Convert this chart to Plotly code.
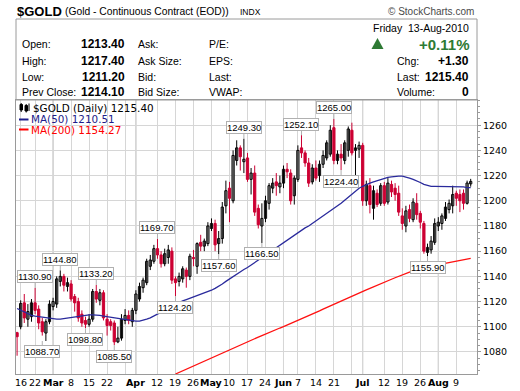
import plotly.graph_objects as go

# ---------------- data ----------------
TRADING_DAYS = [
    ("02", [12, 16, 17, 18, 19, 22, 23, 24, 25, 26]),
    ("03", [1, 2, 3, 4, 5, 8, 9, 10, 11, 12, 15, 16, 17, 18, 19, 22, 23, 24, 25, 26, 29, 30, 31]),
    ("04", [1, 5, 6, 7, 8, 9, 12, 13, 14, 15, 16, 19, 20, 21, 22, 23, 26, 27, 28, 29, 30]),
    ("05", [3, 4, 5, 6, 7, 10, 11, 12, 13, 14, 17, 18, 19, 20, 21, 24, 25, 26, 27, 28]),
    ("06", [1, 2, 3, 4, 7, 8, 9, 10, 11, 14, 15, 16, 17, 18, 21, 22, 23, 24, 25, 28, 29, 30]),
    ("07", [1, 2, 6, 7, 8, 9, 12, 13, 14, 15, 16, 19, 20, 21, 22, 23, 26, 27, 28, 29, 30]),
    ("08", [2, 3, 4, 5, 6, 9, 10, 11, 12, 13]),
]
DATES = [f"2010-{m}-{d:02d}" for m, days in TRADING_DAYS for d in days]

OPEN = [1095.3, 1100, 1119, 1106, 1108, 1119, 1114, 1104, 1095, 1104,
        1116, 1118, 1136, 1140, 1132, 1134, 1124, 1120, 1110, 1105,
        1102, 1106, 1128, 1121, 1127, 1106, 1104, 1103, 1088, 1091,
        1105, 1109, 1104, 1113, 1122, 1131, 1135, 1148, 1152, 1162,
        1157, 1150, 1155, 1160, 1138, 1136, 1138, 1145, 1140, 1155,
        1148, 1167, 1164, 1166, 1178, 1182, 1166, 1170, 1196, 1210,
        1200, 1232, 1242, 1231, 1234, 1217, 1222, 1194, 1180, 1186,
        1198, 1210, 1215, 1211, 1214, 1225, 1222, 1204, 1217, 1242,
        1238, 1230, 1215, 1226, 1220, 1229, 1234, 1237, 1258, 1232,
        1237, 1232, 1240, 1256, 1240, 1241, 1244, 1200, 1212, 1194,
        1206, 1198, 1212, 1199, 1213, 1210, 1206, 1188, 1180, 1193,
        1185, 1198, 1190, 1182, 1159, 1161, 1167, 1180, 1182, 1186,
        1193, 1196, 1206, 1205, 1206, 1198, 1213.4]
HIGH = [1096, 1121, 1126, 1118, 1122, 1130.9, 1117, 1107, 1106, 1121,
        1123, 1140, 1144.8, 1142, 1139, 1137, 1126, 1123, 1113, 1108,
        1110, 1130, 1133.2, 1130, 1129, 1110, 1106, 1105, 1100, 1110,
        1114, 1113, 1115, 1129, 1135, 1139, 1154, 1157, 1165, 1169.7,
        1160, 1162, 1165, 1163, 1140, 1143, 1148, 1147, 1158, 1161,
        1167, 1173, 1170, 1183, 1186, 1185, 1176, 1199, 1216, 1215,
        1240, 1248, 1244, 1249.3, 1238, 1226, 1228, 1197, 1198, 1204,
        1214, 1218, 1222, 1220, 1228, 1230, 1225, 1220, 1244, 1252.1,
        1240, 1234, 1229, 1232, 1232, 1240, 1248, 1260, 1265, 1240,
        1245, 1248, 1259, 1262, 1245, 1247, 1246, 1216, 1218, 1212,
        1209, 1214, 1215, 1218, 1216, 1214, 1212, 1194, 1196, 1197,
        1202, 1206, 1192, 1184, 1166, 1172, 1186, 1187, 1190, 1199,
        1201, 1212, 1208, 1209, 1209, 1216, 1217.4]
LOW = [1077, 1098, 1103, 1100, 1104, 1110, 1098, 1093, 1088.7, 1102,
       1113, 1115, 1132, 1128, 1128, 1120, 1112, 1104, 1100, 1098.8,
       1100, 1104, 1119, 1117, 1105, 1093, 1097, 1085.5, 1087, 1089,
       1102, 1102, 1100, 1110, 1120, 1127, 1133, 1145, 1150, 1154,
       1147, 1148, 1150, 1134, 1124.2, 1132, 1135, 1131, 1137, 1148,
       1142, 1160, 1160, 1164, 1176, 1160, 1157.6, 1166, 1190, 1183,
       1198, 1228, 1224, 1222, 1215, 1205, 1188, 1178, 1166.5, 1183,
       1193, 1206, 1204, 1206, 1210, 1218, 1197, 1197, 1215, 1234,
       1227, 1211, 1213, 1216, 1215, 1226, 1232, 1235, 1229, 1229,
       1224.4, 1229, 1235, 1236, 1220, 1234, 1196, 1196, 1190, 1185,
       1195, 1196, 1196, 1197, 1203, 1200, 1188, 1177, 1175, 1183,
       1183, 1185, 1178, 1158, 1155.9, 1158, 1165, 1176, 1177, 1184,
       1190, 1190, 1196, 1191, 1193, 1197, 1211.2]
CLOSE = [1092.1, 1118.5, 1107, 1112, 1119, 1113, 1103, 1096, 1104, 1118,
         1120, 1138, 1140, 1133, 1135, 1122, 1119, 1107, 1103, 1102,
         1106, 1128, 1122, 1127, 1107, 1101, 1101, 1088, 1091, 1106,
         1109, 1105, 1113, 1126, 1132, 1137, 1152, 1153, 1162, 1157,
         1150, 1158, 1161, 1137, 1135, 1140, 1146, 1140, 1156, 1154,
         1166, 1164, 1168, 1180, 1182, 1165, 1170, 1195, 1208, 1202,
         1236, 1242, 1235, 1233, 1217, 1222, 1191, 1181, 1186, 1200,
         1212, 1214, 1212, 1214, 1225, 1223, 1200, 1218, 1240, 1238,
         1230, 1214, 1226, 1218, 1229, 1236, 1246, 1256, 1232, 1237,
         1234, 1246, 1257, 1238, 1242, 1244, 1200, 1213, 1197, 1208,
         1197, 1212, 1198, 1214, 1207, 1205, 1191, 1182, 1192, 1186,
         1199, 1189, 1183, 1160, 1163, 1168, 1182, 1183, 1188, 1195,
         1198, 1205, 1202, 1200, 1198, 1214.1, 1215.4]

MA50 = [1114.5, 1113, 1112, 1110.5, 1109, 1108.5, 1108, 1107.5, 1107, 1106.5, 1106,
        1106, 1106, 1106.5, 1107, 1107.5, 1107.5, 1108, 1108.5, 1109, 1109.5,
        1109.5, 1109.5, 1109, 1108.5, 1108, 1107.5, 1107, 1106.5, 1106, 1105.5, 1105, 1104.5,
        1104.5, 1104.5, 1105, 1106, 1107, 1108.5, 1110, 1111.5, 1113, 1114.5, 1116.5, 1118,
        1119.5, 1120.5, 1121.5, 1122.5, 1123.5, 1124.5, 1125.5, 1126.5, 1127.5, 1129, 1130.5, 1132,
        1134, 1136, 1138, 1140, 1142, 1144, 1145.5, 1147, 1149, 1151, 1153,
        1155, 1157, 1159, 1161, 1162.5, 1164.5, 1166.5,
        1168.5, 1170.5, 1172.5, 1174.5, 1176.5, 1178.5, 1180, 1182, 1183.5,
        1185.5, 1187.5, 1189.5, 1191.5, 1193.5, 1195.5, 1198,
        1200.5, 1203, 1205.5, 1208, 1210, 1211.5, 1213,
        1214, 1215, 1216, 1217, 1218, 1218.5, 1219, 1219.5, 1219.5,
        1219.5, 1219, 1218, 1217, 1216, 1214.5, 1213, 1212, 1211.5,
        1211.5, 1211.5, 1211.5, 1211.5, 1211.5, 1211.5, 1211.5, 1211, 1211, 1210.5, 1210.51]

MA200 = [None] * 44 + [
    1062.5, 1063.8, 1065.1, 1066.4, 1067.7, 1069, 1070.2, 1071.5, 1072.8, 1074, 1075.3,
    1076.6, 1077.9, 1079.2, 1080.5, 1081.8, 1083.1, 1084.4, 1085.7, 1087, 1088.2,
    1089.4, 1090.6, 1091.8, 1093, 1094.3, 1095.5, 1096.7, 1097.9, 1099, 1100.1,
    1101.3, 1102.6, 1103.8, 1105.1, 1106.3, 1107.6, 1108.8, 1110.1, 1111.3,
    1112.6, 1114, 1115.3, 1116.7, 1118, 1119.4, 1120.7, 1122.1, 1123.4,
    1124.6, 1125.8, 1127, 1128.1, 1129.3, 1130.5, 1131.6, 1132.8, 1134,
    1135.2, 1136.4, 1137.7, 1138.9, 1140.1, 1141.3, 1142.5,
    1143.3, 1144.1, 1145, 1145.8, 1146.6, 1147.4, 1148.2,
    1148.8, 1149.4, 1150, 1150.6, 1151.2, 1151.7, 1152.2, 1152.8, 1153.3, 1153.8, 1154.27]

# labelled highs / lows
PEAK_DATES = ["2010-02-22", "2010-03-03", "2010-03-17", "2010-04-12", "2010-05-14",
              "2010-06-08", "2010-06-21"]
PEAK_VALUES = [1130.90, 1144.80, 1133.20, 1169.70, 1249.30, 1252.10, 1265.00]
TROUGH_DATES = ["2010-02-24", "2010-03-12", "2010-03-24", "2010-04-19", "2010-05-05",
                "2010-05-21", "2010-06-23", "2010-07-28"]
TROUGH_VALUES = [1088.70, 1098.80, 1085.50, 1124.20, 1157.60, 1166.50, 1224.40, 1155.90]

TICK_DATES = ["2010-02-16", "2010-02-22", "2010-03-01", "2010-03-08", "2010-03-15",
              "2010-03-22", "2010-03-29", "2010-04-01", "2010-04-12", "2010-04-19",
              "2010-04-26", "2010-05-03", "2010-05-10", "2010-05-17", "2010-05-24",
              "2010-06-01", "2010-06-07", "2010-06-14", "2010-06-21", "2010-06-28",
              "2010-07-01", "2010-07-12", "2010-07-19", "2010-07-26", "2010-08-02",
              "2010-08-09"]
TICK_TEXT = ["16", "22", "<b>Mar</b>", "8", "15", "22", "", "<b>Apr</b>", "12", "19",
             "26", "<b>May</b>", "10", "17", "24", "<b>Jun</b>", "7", "14", "21", "",
             "<b>Jul</b>", "12", "19", "26", "<b>Aug</b>", "9"]
MONTH_DATES = ["2010-03-01", "2010-04-01", "2010-05-03", "2010-06-01", "2010-07-01", "2010-08-02"]
Y_TICKS = [1080, 1100, 1120, 1140, 1160, 1180, 1200, 1220, 1240, 1260]

QUOTE = {"Open:": "1213.40", "High:": "1217.40", "Low:": "1211.20", "Prev Close:": "1214.10"}
QUOTE_MID = ["Ask:", "Ask Size:", "Bid:", "Bid Size:"]
QUOTE_MID2 = ["P/E:", "EPS:", "Last:", "VWAP:"]
QUOTE_RIGHT = [("Chg:", "+1.30"), ("Last:", "1215.40"), ("Volume:", "0")]
PCT_CHANGE = "+0.11%"
DATE_TEXT = "Friday  13-Aug-2010"
LAST = "1215.40"
MA50_LAST = "1210.51"
MA200_LAST = "1154.27"

# ---------------- styling ----------------
W, H = 520, 391
PL, PR, PT, PB = 16, 477, 100, 374
RED = "#cc0033"
NAVY = "#1c1c8a"
MA50_COL = "#2a2a9c"
GREEN = "#2e7a34"
GRID = "#d6d6d6"
FRAME = "#9a9a9a"


def px(x):
    return (x - PL) / (PR - PL)


def py(y):
    return (PB - y) / (PB - PT)


up = [c >= o for o, c in zip(OPEN, CLOSE)]

fig = go.Figure()
# wicks
for is_up, col in [(True, "black"), (False, RED)]:
    wx, wy = [], []
    for d, h, l, u in zip(DATES, HIGH, LOW, up):
        if u == is_up:
            wx += [d, d, None]
            wy += [l, h, None]
    fig.add_trace(go.Scatter(x=wx, y=wy, mode="lines", line=dict(color=col, width=1),
                             showlegend=False, hoverinfo="skip", connectgaps=False))
# bodies
for is_up, fill, col in [(True, "white", "black"), (False, RED, RED)]:
    bx = [d for d, u in zip(DATES, up) if u == is_up]
    bb = [min(o, c) for o, c, u in zip(OPEN, CLOSE, up) if u == is_up]
    bh = [abs(c - o) for o, c, u in zip(OPEN, CLOSE, up) if u == is_up]
    fig.add_trace(go.Bar(x=bx, y=bh, base=bb, width=0.62,
                         marker=dict(color=fill, line=dict(color=col, width=1)),
                         showlegend=False, hoverinfo="skip"))
fig.add_trace(go.Scatter(x=DATES, y=MA50, mode="lines", line=dict(color=MA50_COL, width=1.3),
                         showlegend=False, hoverinfo="skip"))
fig.add_trace(go.Scatter(x=DATES, y=MA200, mode="lines", line=dict(color="#ff1010", width=1.3),
                         showlegend=False, hoverinfo="skip", connectgaps=False))

shapes = []
for d in MONTH_DATES:
    shapes.append(dict(type="line", xref="x", yref="paper", x0=d, x1=d, y0=0, y1=1,
                       line=dict(color="#ababab", width=1), layer="below"))
# header box
shapes.append(dict(type="rect", xref="paper", yref="paper", x0=px(16), x1=px(477),
                   y0=py(100), y1=py(19), line=dict(color=FRAME, width=1)))
# up triangle
shapes.append(dict(type="path", xref="paper", yref="paper",
                   path=f"M {px(371.5)} {py(49)} L {px(383.5)} {py(49)} L {px(377.5)} {py(38)} Z",
                   fillcolor=GREEN, line=dict(width=0)))
# legend markers
shapes.append(dict(type="line", xref="paper", yref="paper", x0=px(19), x1=px(28.5),
                   y0=py(119.5), y1=py(119.5), line=dict(color=NAVY, width=2)))
shapes.append(dict(type="line", xref="paper", yref="paper", x0=px(19), x1=px(28.5),
                   y0=py(129.5), y1=py(129.5), line=dict(color="#ff0000", width=2)))
# mini candle icon
for x0, x1, y0, y1 in [(20, 22.5, 104.5, 110), (25, 27.5, 105.5, 111)]:
    shapes.append(dict(type="rect", xref="paper", yref="paper", x0=px(x0), x1=px(x1),
                       y0=py(y1), y1=py(y0), line=dict(color="black", width=1), fillcolor="black"))
for xx, y0, y1 in [(21.2, 103, 112), (26.2, 104, 112.5), (29, 103.5, 111)]:
    shapes.append(dict(type="line", xref="paper", yref="paper", x0=px(xx), x1=px(xx),
                       y0=py(y1), y1=py(y0), line=dict(color="black", width=1)))

ann = []


def txt(x, y, s, size=10.5, color="black", anchor="left", family="Liberation Sans", bold=False):
    ann.append(dict(xref="paper", yref="paper", x=px(x), y=py(y), text=f"<b>{s}</b>" if bold else s,
                    showarrow=False, xanchor=anchor, yanchor="middle",
                    font=dict(family=family, size=size, color=color)))


txt(15, 11, "$GOLD", size=13, bold=True)
txt(62.5, 11.5, "(Gold - Continuous Contract (EOD))", size=10.3)
txt(238, 11.5, "INDX", size=8.5)
txt(476, 11.5, "© StockCharts.com", size=10, color="#4a4a4a", anchor="right")

rows_y = [43.8, 60.5, 77.2, 91.7]
for (lab, val), yy, m1, m2 in zip(QUOTE.items(), rows_y, QUOTE_MID, QUOTE_MID2):
    txt(20, yy, lab, size=10.5)
    txt(126.5, yy, val, size=12, bold=True, anchor="right")
    txt(136, yy, m1, size=10.5)
    txt(207, yy, m2, size=10.5)
txt(470.5, 28.3, DATE_TEXT, size=10.5, anchor="right")
txt(470.5, 44, PCT_CHANGE, size=15, color=GREEN, bold=True, anchor="right")
for (lab, val), yy in zip(QUOTE_RIGHT, rows_y[1:]):
    txt(394.5, yy, lab, size=10.5)
    txt(470.5, yy, val, size=12, bold=True, anchor="right")

# chart legend text
txt(31, 107.5, f"$GOLD (Daily) {LAST}", size=10.4, family="DejaVu Sans")
txt(29, 119.3, f"MA(50) {MA50_LAST}", size=10.4, family="DejaVu Sans", color=NAVY)
txt(29, 129.6, f"MA(200) {MA200_LAST}", size=10.4, family="DejaVu Sans", color="#ff0000")

# x tick labels (placed as annotations just below the frame)
for d, t in zip(TICK_DATES, TICK_TEXT):
    if t:
        ann.append(dict(x=d, y=py(382), xref="x", yref="paper", text=t, showarrow=False,
                        xanchor="center", yanchor="middle",
                        font=dict(family="DejaVu Sans", size=9.5, color="black")))

for d, v in zip(PEAK_DATES, PEAK_VALUES):
    ann.append(dict(x=d, y=v, xref="x", yref="y", text=f"{v:.2f}", showarrow=True,
                    arrowhead=0, arrowwidth=1, arrowcolor="#b0b0b0", ax=0, ay=-11, standoff=0,
                    bgcolor="white", bordercolor="#b0b0b0", borderwidth=1, borderpad=0,
                    font=dict(family="Liberation Sans", size=9.5, color="black")))
for d, v in zip(TROUGH_DATES, TROUGH_VALUES):
    ann.append(dict(x=d, y=v, xref="x", yref="y", text=f"{v:.2f}", showarrow=True,
                    arrowhead=0, arrowwidth=1, arrowcolor="#b0b0b0", ax=0, ay=11, standoff=0,
                    bgcolor="white", bordercolor="#b0b0b0", borderwidth=1, borderpad=0,
                    font=dict(family="Liberation Sans", size=9.5, color="black")))

fig.update_layout(
    width=W, height=H, paper_bgcolor="white", plot_bgcolor="white",
    margin=dict(l=PL, r=W - PR, t=PT, b=H - PB, autoexpand=False),
    shapes=shapes, annotations=ann, showlegend=False, barmode="overlay",
    xaxis=dict(type="category", categoryorder="array", categoryarray=DATES,
               range=[-0.3, 127.75], tickmode="array",
               tickvals=TICK_DATES, ticktext=TICK_TEXT, showticklabels=False,
               showgrid=True, gridcolor=GRID,
               gridwidth=1, ticks="", showline=True, mirror=True, linecolor=FRAME,
               fixedrange=True),
    yaxis=dict(side="right", range=[1062.5, 1280], tickmode="array", tickvals=Y_TICKS,
               showgrid=True, gridcolor=GRID, showline=True, mirror=True, linecolor=FRAME,
               ticks="outside", ticklen=3, tickcolor=FRAME,
               minor=dict(tickmode="linear", tick0=1060, dtick=5, ticks="outside", ticklen=2,
                          tickcolor=FRAME, showgrid=False),
               tickfont=dict(family="DejaVu Sans", size=9.5, color="black"), fixedrange=True),
)

fig.write_html("out.html", config={"displayModeBar": False, "staticPlot": True},
               post_script="document.body.style.margin='0';document.body.style.overflow='hidden';")
